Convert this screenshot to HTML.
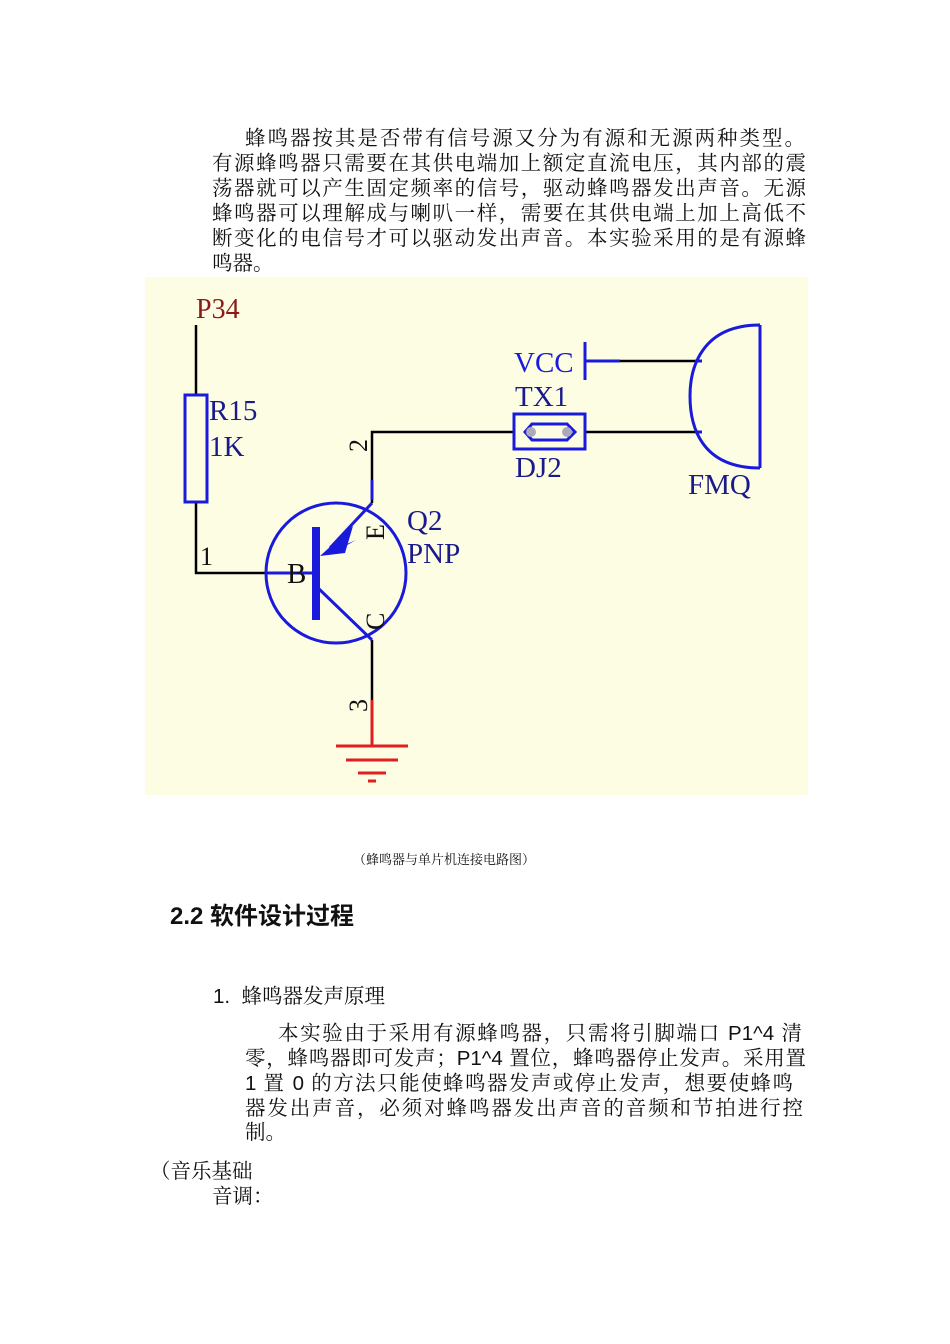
<!DOCTYPE html>
<html><head><meta charset="utf-8"><style>
body{margin:0;width:950px;height:1344px;background:#fff;position:relative;overflow:hidden;font-family:"Liberation Serif","Noto Serif CJK SC","Noto Sans CJK SC",serif;color:#111}
.l{position:absolute;font-size:20.5px;line-height:25px;white-space:nowrap}
.j{text-align:justify;text-align-last:justify}
.s{font-family:"Liberation Sans","Noto Sans CJK SC",sans-serif}
.m{font-family:"Liberation Sans","Noto Serif CJK SC",serif}
</style></head><body>
<div class="l j" style="left:245px;top:127px;width:560px">蜂鸣器按其是否带有信号源又分为有源和无源两种类型。</div>
<div class="l j" style="left:212px;top:152px;width:594px">有源蜂鸣器只需要在其供电端加上额定直流电压，其内部的震</div>
<div class="l j" style="left:212px;top:177px;width:594px">荡器就可以产生固定频率的信号，驱动蜂鸣器发出声音。无源</div>
<div class="l j" style="left:212px;top:202px;width:594px">蜂鸣器可以理解成与喇叭一样，需要在其供电端上加上高低不</div>
<div class="l j" style="left:212px;top:227px;width:594px">断变化的电信号才可以驱动发出声音。本实验采用的是有源蜂</div>
<div class="l" style="left:212px;top:252px">鸣器。</div>

<svg style="position:absolute;left:0;top:0" width="950" height="1344">
<rect x="145" y="277" width="663" height="518" fill="#fdfde4"/>
<text x="196" y="318" font-family="Liberation Serif" font-size="28" fill="#8b1a1a">P34</text>
<g stroke="#000" stroke-width="2.5" fill="none">
<line x1="196" y1="325" x2="196" y2="395"/>
<polyline points="196,502 196,573 268,573"/>
<line x1="372" y1="640" x2="372" y2="700"/>
<polyline points="372,503 372,432 515,432"/>
<line x1="585" y1="432" x2="695" y2="432"/>
<line x1="620" y1="361" x2="695" y2="361"/>
</g>
<g stroke="#1a1adc" stroke-width="3" fill="none">
<rect x="185" y="395" width="22" height="107"/>
<circle cx="336" cy="573" r="70"/>
<line x1="268" y1="573" x2="315" y2="573"/>
<line x1="318" y1="588" x2="372" y2="640"/>
<line x1="330" y1="548" x2="372" y2="503"/>
<line x1="372" y1="500" x2="372" y2="480"/>
<line x1="585" y1="342" x2="585" y2="380"/>
<line x1="585" y1="361" x2="620" y2="361"/>
<rect x="514" y="414" width="71" height="35"/>
<polygon points="525,432 532,424 567,424 575,432 567,440 532,440"/>
<path d="M760,325 L760,468 M760,325 C700,325 690,370 690,396 C690,425 700,468 760,468"/>
<line x1="695" y1="361" x2="702" y2="361"/>
<line x1="695" y1="432" x2="702" y2="432"/>
</g>
<line x1="316" y1="527" x2="316" y2="620" stroke="#1a1adc" stroke-width="8"/>
<polygon points="322,555 352,526 342,548 356,540" fill="#1a1adc"/>
<polygon points="320,556 353,526 345,553" fill="#1a1adc"/>
<circle cx="531" cy="432" r="5" fill="#aab"/>
<circle cx="567" cy="432" r="5" fill="#aab"/>
<g stroke="#e02020" stroke-width="3">
<line x1="372" y1="700" x2="372" y2="746"/>
<line x1="336" y1="746" x2="408" y2="746"/>
<line x1="346" y1="760" x2="398" y2="760"/>
<line x1="358" y1="773" x2="386" y2="773"/>
<line x1="368" y1="781" x2="376" y2="781"/>
</g>
<g font-family="Liberation Serif" font-size="29" fill="#1a1a8c">
<text x="209" y="420">R15</text>
<text x="209" y="456">1K</text>
<text x="407" y="530">Q2</text>
<text x="407" y="563">PNP</text>
<text x="515" y="406">TX1</text>
<text x="515" y="477">DJ2</text>
<text x="688" y="494">FMQ</text>
<text x="287" y="583" fill="#111">B</text>
</g>
<text x="514" y="372" font-family="Liberation Serif" font-size="29" fill="#1a1adc">VCC</text>
<g font-family="Liberation Serif" font-size="26" fill="#111">
<text x="200" y="565">1</text>
<text transform="translate(367,452) rotate(-90)">2</text>
<text transform="translate(367,712) rotate(-90)">3</text>
<text transform="translate(384,540) rotate(-90)">E</text>
<text transform="translate(384,630) rotate(-90)">C</text>
</g>
</svg>

<div class="l" style="left:353px;top:851px;font-size:13px;line-height:18px">（蜂鸣器与单片机连接电路图）</div>
<div class="l s" style="left:170px;top:902px;font-size:24px;line-height:30px;font-weight:bold">2.2 软件设计过程</div>
<div class="l m" style="left:213px;top:984px">1.&nbsp;&nbsp;蜂鸣器发声原理</div>
<div class="l j m" style="left:278px;top:1021px;width:524px">本实验由于采用有源蜂鸣器，只需将引脚端口 P1^4 清</div>
<div class="l j m" style="left:245px;top:1046px;width:561px">零，蜂鸣器即可发声；P1^4 置位，蜂鸣器停止发声。采用置</div>
<div class="l j m" style="left:245px;top:1071px;width:548px">1 置 0 的方法只能使蜂鸣器发声或停止发声，想要使蜂鸣</div>
<div class="l j m" style="left:245px;top:1096px;width:558px">器发出声音，必须对蜂鸣器发出声音的音频和节拍进行控</div>
<div class="l" style="left:245px;top:1121px">制。</div>
<div class="l" style="left:150px;top:1160px">（音乐基础</div>
<div class="l" style="left:212px;top:1185px">音调：</div>
</body></html>
